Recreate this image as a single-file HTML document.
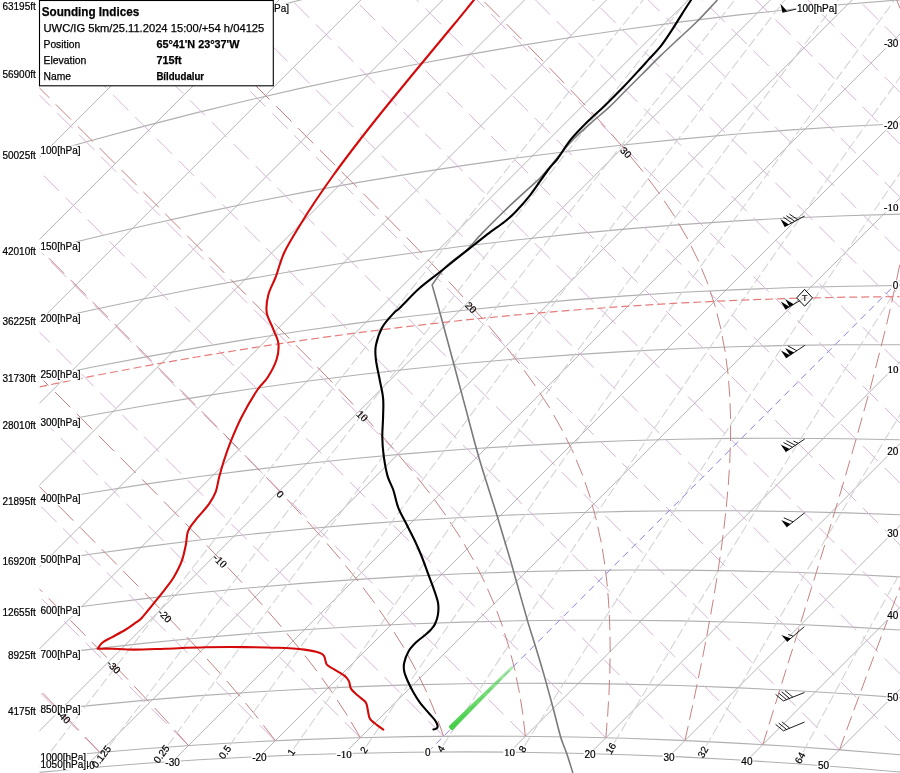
<!DOCTYPE html>
<html><head><meta charset="utf-8"><title>Sounding</title><style>html,body{margin:0;padding:0;background:#fff;overflow:hidden}svg{display:block}</style></head>
<body><svg width="900" height="773" viewBox="0 0 900 773">
<defs><linearGradient id="gg" gradientUnits="userSpaceOnUse" x1="451" y1="728" x2="512.6" y2="667.1"><stop offset="0" stop-color="#3ccc3c" stop-opacity="0.95"/><stop offset="0.6" stop-color="#50d450" stop-opacity="0.75"/><stop offset="1" stop-color="#70dc70" stop-opacity="0.55"/></linearGradient><filter id="gb" x="-20%" y="-20%" width="140%" height="140%"><feGaussianBlur stdDeviation="0.7"/></filter><clipPath id="pc"><rect x="39.5" y="0" width="861" height="773"/></clipPath></defs>
<rect width="900" height="773" fill="#fff"/>
<g clip-path="url(#pc)">
<path d="M-1375.6 1163.1l1168.1 -1168.1M-1229.5 1098.9l1103.9 -1103.9M-1092.2 1043.5l1048.5 -1048.5M-962.5 995.7l1000.7 -1000.7M-839.2 954.3l959.3 -959.3M-721.5 918.5l923.5 -923.5M-608.6 887.5l892.5 -892.5M-500.0 860.8l865.8 -865.8M-395.3 838.0l843.0 -843.0M-293.9 818.5l823.5 -823.5M-195.5 802.0l807.0 -807.0M-99.9 788.3l793.3 -793.3M-6.9 777.2l782.2 -782.2M83.9 768.3l773.3 -773.3M172.6 761.5l766.5 -766.5M259.4 756.6l761.6 -761.6M344.4 753.5l758.5 -758.5M509.6 752.1l757.1 -757.1M590.0 753.6l758.6 -758.6M669.1 756.4l761.4 -761.4M746.9 760.5l765.5 -765.5M823.6 765.7l770.7 -770.7M899.2 772.0l777.0 -777.0" stroke="#acacac" stroke-width="0.9" fill="none"/>
<path d="M38.8 772.4 L92.9 767.5 L146.2 763.3 L198.9 759.8 L250.8 757.0 L302.1 754.8 L357.0 753.2 L411.2 752.2 L464.8 751.9 L517.7 752.2 L574.0 753.2 L625.7 754.7 L680.8 756.9 L735.3 759.8 L793.1 763.5 L846.4 767.5 L903.0 772.3M41.0 757.9 L90.8 753.2 L144.4 748.8 L197.2 745.0 L249.4 742.0 L300.9 739.6 L356.0 737.8 L410.5 736.6 L464.2 736.1 L517.3 736.2 L573.9 737.0 L625.7 738.3 L681.0 740.4 L735.7 743.1 L789.8 746.3 L843.3 750.1 L900.0 754.8M38.8 711.1 L89.3 705.6 L143.6 700.4 L197.2 695.9 L250.1 692.2 L302.2 689.2 L358.0 686.6 L408.9 684.9 L463.3 683.8 L517.0 683.2 L570.1 683.4 L622.7 684.1 L678.6 685.5 L733.8 687.6 L788.5 690.2 L842.6 693.5 L899.9 697.6M36.6 655.9 L88.0 649.6 L143.3 643.4 L193.2 638.5 L247.0 633.9 L300.0 630.0 L356.7 626.5 L408.3 624.0 L463.5 622.1 L518.1 620.8 L571.9 620.2 L625.1 620.2 L681.8 620.9 L737.7 622.3 L793.0 624.3 L847.7 626.9 L901.8 630.1M39.3 612.3 L91.4 605.2 L142.7 598.9 L193.4 593.3 L247.8 588.0 L301.5 583.4 L354.5 579.6 L406.8 576.4 L462.7 573.8 L517.9 571.8 L572.3 570.6 L626.1 570.0 L679.3 570.1 L735.9 570.9 L791.8 572.3 L847.1 574.3 L901.7 577.0M40.8 561.6 L93.8 553.7 L145.9 546.6 L197.4 540.2 L252.6 534.0 L307.1 528.7 L360.8 524.1 L413.8 520.3 L466.1 517.2 L517.7 514.7 L572.9 512.7 L627.4 511.4 L681.3 510.8 L734.5 510.8 L791.1 511.5 L847.1 512.9 L902.4 514.9M39.7 501.2 L93.9 492.2 L147.1 483.9 L199.6 476.5 L251.3 469.9 L302.2 464.0 L357.0 458.3 L411.1 453.4 L464.3 449.3 L516.9 445.9 L573.1 442.9 L624.3 440.8 L679.1 439.3 L733.2 438.4 L790.7 438.2 L843.5 438.7 L899.7 439.8M37.6 425.6 L88.3 415.8 L143.1 406.0 L197.1 397.1 L250.2 389.0 L302.5 381.8 L358.8 374.7 L409.5 369.0 L464.1 363.5 L518.0 358.8 L571.0 354.9 L623.4 351.6 L679.5 348.8 L734.7 346.8 L789.3 345.4 L843.2 344.8 L900.5 344.8M40.1 378.0 L91.7 367.3 L147.6 356.6 L197.5 347.6 L251.5 338.6 L304.7 330.5 L357.1 323.1 L408.7 316.5 L464.2 310.2 L518.9 304.7 L572.8 299.9 L625.9 295.9 L682.7 292.3 L738.7 289.6 L794.0 287.5 L848.6 286.2 L902.5 285.5M39.0 321.8 L91.8 310.0 L143.7 299.0 L194.8 288.8 L250.1 278.6 L304.5 269.3 L358.0 260.8 L410.7 253.2 L462.6 246.3 L518.3 239.7 L573.3 233.9 L627.4 228.9 L680.8 224.6 L733.5 221.1 L789.8 218.0 L845.4 215.7 L900.2 214.1M40.4 250.8 L94.9 237.2 L148.4 224.7 L201.0 213.1 L252.7 202.3 L303.5 192.4 L358.5 182.4 L412.7 173.4 L465.9 165.1 L518.4 157.7 L574.7 150.5 L625.6 144.7 L680.4 139.1 L734.3 134.2 L792.0 129.9 L844.4 126.5 L900.5 123.7M37.0 155.9 L88.5 141.3 L144.6 126.1 L194.1 113.4 L248.2 100.3 L301.3 88.1 L358.7 75.8 L410.0 65.5 L465.4 55.1 L520.0 45.6 L573.6 37.0 L626.4 29.2 L683.2 21.6 L739.0 14.9 L794.0 9.0 L848.2 4.0 L901.7 -0.3M41.0 74.1 L94.6 57.3 L147.2 41.6 L198.8 26.9 L255.0 11.7 L310.1 -2.5 L364.2 -15.6 L417.3 -27.8 L469.5 -39.1 L520.8 -49.5 L576.4 -60.0 L631.0 -69.5 L684.7 -78.2 L737.6 -86.1 L794.4 -93.7 L845.7 -100.0 L900.8 -106.0M39.7 1.7 L89.5 -15.3 L144.4 -33.4 L198.1 -50.2 L250.8 -66.1 L302.5 -80.9 L358.8 -96.2 L414.0 -110.5 L468.2 -123.7 L521.4 -136.0 L573.7 -147.4 L625.1 -157.8 L680.7 -168.4 L735.4 -178.1 L789.2 -186.8 L842.2 -194.8 L899.1 -202.5" stroke="#b0b0b0" stroke-width="1.1" fill="none"/>
<path d="M-278.00 802.60l-812.6 -812.6M-179.66 786.16l-796.2 -796.2M-84.08 772.48l-782.5 -782.5M9.00 761.30l-771.3 -771.3M99.79 752.41l-762.4 -762.4M188.49 745.61l-755.6 -755.6M275.26 740.74l-750.7 -750.7M360.26 737.64l-747.6 -747.6M443.61 736.19l-746.2 -746.2M525.44 736.26l-746.3 -746.3M605.85 737.75l-747.7 -747.7M684.94 740.56l-750.6 -750.6M762.79 744.61l-772.8 -772.8M839.48 749.82l-849.5 -849.5M900.00 741.04l-910.0 -910.0M900.00 673.79l-910.0 -910.0M900.00 608.47l-910.0 -910.0M900.00 544.98l-910.0 -910.0M900.00 483.21l-910.0 -910.0M900.00 423.07l-910.0 -910.0M900.00 364.49l-910.0 -910.0M900.00 307.37l-910.0 -910.0M900.00 251.66l-910.0 -910.0M900.00 197.27l-910.0 -910.0M900.00 144.16l-910.0 -910.0M900.00 92.26l-910.0 -910.0M900.00 41.52l-910.0 -910.0" stroke="#dab4dc" stroke-width="1" fill="none" stroke-dasharray="21.65 9.28"/>
<path d="M99.8 752.4L85.2 737.0M78.9 730.4L64.1 715.1M57.7 708.5L42.7 693.1M188.5 745.6L174.8 730.2M169.0 723.6L154.8 708.1M148.7 701.5L134.2 686.2M128.0 679.6L113.2 664.2M106.9 657.6L91.9 642.2M85.5 635.7L70.4 620.3M63.9 613.7L48.7 598.4M42.2 591.8L27.0 576.5M275.3 740.7L263.4 725.2M258.3 718.6L245.6 703.1M240.1 696.5L226.8 681.0M221.0 674.4L207.1 659.0M201.1 652.4L186.8 637.0M180.6 630.4L165.9 615.0M159.7 608.4L144.8 593.0M138.4 586.4L123.3 571.1M116.9 564.5L101.7 549.2M95.2 542.6L80.0 527.3M73.4 520.7L58.2 505.4M51.6 498.8L36.3 483.5M360.3 737.6L351.2 722.1M347.3 715.5L337.2 700.0M332.8 693.3L321.7 677.8M316.9 671.1L304.9 655.6M299.8 649.0L286.9 633.5M281.5 626.9L268.0 611.4M262.2 604.8L248.1 589.3M242.1 582.7L227.7 567.3M221.5 560.7L206.7 545.3M200.4 538.7L185.4 523.4M179.0 516.8L163.9 501.5M157.5 494.9L142.3 479.5M135.8 473.0L120.5 457.6M114.0 451.1L98.7 435.7M92.1 429.2L76.8 413.9M70.3 407.3L55.0 392.0M48.4 385.4L33.1 370.1M443.6 736.2L438.1 720.8M435.8 714.1L429.4 698.7M426.6 692.0L419.1 676.5M415.9 669.9L407.4 654.3M403.8 647.6L394.1 632.1M390.0 625.4L379.3 609.9M374.7 603.2L363.1 587.7M358.1 581.0L345.5 565.5M340.2 558.8L326.9 543.4M321.2 536.7L307.3 521.3M301.3 514.7L287.0 499.2M280.8 492.6L266.1 477.2M259.8 470.7L244.9 455.3M238.5 448.7L223.4 433.3M217.0 426.8L201.8 411.4M195.3 404.9L180.0 389.5M173.5 383.0L158.2 367.6M151.7 361.1L136.4 345.7M129.8 339.2L114.5 323.9M108.0 317.3L92.6 302.0M86.1 295.4L70.8 280.1M64.2 273.5L48.9 258.2M42.3 251.6L27.0 236.3M525.4 736.3L523.6 721.0M522.9 714.5L520.5 699.2M519.4 692.7L516.3 677.3M515.0 670.7L511.1 655.3M509.4 648.7L504.6 633.2M502.6 626.5L496.8 611.0M494.3 604.3L487.5 588.8M484.6 582.1L476.7 566.5M473.3 559.8L464.2 544.2M460.3 537.5L450.0 521.9M445.7 515.2L434.4 499.6M429.5 493.0L417.2 477.4M412.0 470.8L398.9 455.3M393.3 448.6L379.5 433.1M373.6 426.5L359.4 411.1M353.2 404.5L338.6 389.1M332.3 382.5L317.4 367.1M311.1 360.5L296.0 345.2M289.5 338.6L274.4 323.2M267.9 316.7L252.6 301.3M246.1 294.8L230.8 279.4M224.3 272.9L209.0 257.6M202.4 251.0L187.1 235.7M180.5 229.1L165.2 213.8M158.7 207.2L143.3 191.9M136.8 185.3L121.5 170.0M114.9 163.5L99.6 148.1M93.0 141.6L77.7 126.3M71.1 119.7L55.8 104.4M49.3 97.8L34.0 82.5M605.9 737.7L607.0 722.8M607.6 716.5L608.5 701.5M608.9 695.1L609.5 680.0M609.8 673.6L610.0 658.4M610.2 651.9L610.0 636.7M609.9 630.2L609.3 614.9M609.0 608.4L607.9 593.0M607.4 586.5L605.6 571.0M604.8 564.4L602.3 548.9M601.2 542.3L597.8 526.7M596.4 520.1L592.1 504.5M590.3 497.8L585.0 482.1M582.7 475.4L576.2 459.8M573.5 453.0L565.8 437.4M562.5 430.6L553.7 415.0M549.8 408.2L539.7 392.6M535.4 385.9L524.1 370.3M519.3 363.6L507.0 348.0M501.7 341.3L488.6 325.8M482.9 319.1L469.1 303.7M463.1 297.0L448.8 281.6M442.6 275.0L427.9 259.6M421.6 253.0L406.7 237.6M400.3 231.0L385.2 215.7M378.7 209.1L363.5 193.8M357.0 187.2L341.7 171.9M335.2 165.3L319.9 150.0M313.3 143.4L298.0 128.1M291.5 121.5L276.2 106.2M269.6 99.6L254.3 84.3M247.7 77.8L232.4 62.4M225.8 55.9L210.5 40.6M204.0 34.0L188.7 18.7M182.1 12.1L166.8 -3.2M684.9 740.6L688.2 726.0M689.5 719.8L692.7 705.2M694.0 698.9L697.1 684.3M698.4 678.0L701.4 663.3M702.7 656.9L705.6 642.1M706.8 635.8L709.5 620.9M710.7 614.6L713.3 599.6M714.4 593.2L716.9 578.2M717.9 571.8L720.1 556.7M721.1 550.3L723.0 535.1M723.9 528.6L725.6 513.4M726.3 506.9L727.7 491.6M728.3 485.0L729.3 469.7M729.7 463.1L730.3 447.6M730.5 441.0L730.6 425.5M730.6 418.9L730.0 403.3M729.8 396.6L728.6 381.0M728.1 374.2L726.0 358.5M725.2 351.8L722.2 336.1M721.0 329.3L717.0 313.5M715.3 306.8L710.2 291.0M708.0 284.2L701.5 268.4M698.8 261.6L691.0 245.8M687.7 239.0L678.6 223.3M674.7 216.5L664.2 200.8M659.7 194.0L648.0 178.4M643.0 171.7L630.3 156.1M624.8 149.4L611.3 133.9M605.5 127.3L591.3 111.8M585.2 105.2L570.6 89.8M564.3 83.2L549.4 67.8M543.0 61.2L528.0 45.8M521.5 39.2L506.3 23.9M499.8 17.3L484.5 2.0M762.8 744.6L767.2 730.4M769.1 724.4L773.5 710.2M775.4 704.1L779.8 689.8M781.7 683.7L786.2 669.4M788.1 663.2L792.6 648.9M794.5 642.7L799.0 628.3M800.9 622.1L805.4 607.6M807.3 601.4L811.8 586.8M813.8 580.6L818.3 566.0M820.2 559.7L824.7 545.1M826.6 538.8L831.0 524.1M832.9 517.8L837.4 503.0M839.3 496.6L843.7 481.8M845.6 475.4L849.9 460.5M851.8 454.1L856.1 439.2M857.9 432.7L862.1 417.7M863.9 411.2L868.1 396.1M869.9 389.7L873.9 374.5M875.6 368.0L879.5 352.8M881.2 346.2L885.0 330.9M886.6 324.4L890.2 309.0M891.7 302.4L895.1 286.9M896.5 280.3L899.7 264.8M901.0 258.1L903.9 242.6M906.8 31.5L902.1 15.5M900.1 8.6L894.0 -7.4M839.5 749.8L844.5 736.0M846.6 730.1L851.7 716.3M853.8 710.3L859.0 696.4M861.2 690.5L866.3 676.5M868.5 670.6L873.8 656.6M876.0 650.6L881.3 636.5M883.6 630.5L888.9 616.5M891.2 610.4L896.6 596.3M898.9 590.2L904.4 576.1" stroke="#c47a7a" stroke-width="0.95" fill="none"/>
<path d="M34.4 772.9 L106.3 679.1 L179.6 584.5 L254.6 488.2 L330.8 391.1 L408.5 292.8 L487.3 193.8 L568.1 92.9 L651.1 -9.9M109.6 745.6 L177.8 655.1 L247.5 563.5 L318.5 470.8 L391.2 376.7 L464.7 282.3 L540.7 185.3 L617.0 88.8 L695.3 -9.8M167.9 745.2 L234.6 654.7 L302.7 563.2 L372.3 470.6 L443.2 377.0 L516.0 281.8 L589.3 186.6 L664.3 90.0 L742.0 -9.4M229.6 745.5 L294.5 655.3 L360.8 564.1 L428.8 471.6 L498.3 377.8 L569.2 283.1 L642.2 186.4 L716.3 89.0 L791.4 -8.7M293.6 748.8 L357.1 657.9 L422.0 566.2 L488.6 473.2 L556.7 379.2 L626.6 283.5 L698.2 186.6 L771.3 88.5 L846.3 -11.0M366.2 746.6 L427.5 656.0 L490.2 564.8 L554.8 471.9 L620.8 378.3 L688.4 283.3 L757.5 187.5 L829.6 88.6 L901.8 -9.5M443.1 745.4 L496.4 663.9 L551.0 581.5 L606.9 498.2 L664.6 413.3 L723.5 327.7 L784.1 240.7 L845.3 153.9 L909.0 64.5M524.7 745.6 L568.9 675.2 L614.1 603.9 L660.7 531.6 L708.1 458.9 L756.2 386.0 L805.9 311.6 L856.5 236.6 L908.4 160.7M614.3 742.6 L683.2 628.0 L755.3 511.0 L830.3 392.0 L908.4 271.0M706.1 746.3 L754.2 661.5 L803.7 576.0 L855.3 488.9 L908.2 401.2M803.2 752.0 L854.6 655.6 L908.1 558.0" stroke="#d2d2d2" stroke-width="1.05" fill="none" stroke-dasharray="10 3.6"/>
<path d="M39.4 386.9 L90.8 376.4 L146.5 365.8 L196.2 357.0 L250.1 348.2 L303.2 340.2 L355.4 333.0 L406.9 326.6 L462.2 320.3 L516.8 314.9 L570.5 310.3 L623.6 306.4 L680.3 303.0 L736.2 300.3 L791.3 298.4 L845.8 297.2 L899.6 296.6" stroke="#e67c7c" stroke-width="1.2" fill="none" stroke-dasharray="8 4"/>
<path d="M427.8 752.0L1179.8 0" stroke="#8282e4" stroke-width="1" fill="none" stroke-dasharray="7 5"/>
<path d="M717.4 0.0C710.8 7.0 704.0 14.6 697.6 21.0C691.2 27.4 685.2 32.6 679.0 38.4C672.8 44.2 666.6 49.9 660.4 55.9C654.2 61.9 647.6 68.7 641.8 74.5C636.0 80.3 630.9 85.4 625.5 90.8C620.1 96.2 615.0 101.7 609.2 107.1C603.4 112.5 596.3 118.2 590.5 123.4C584.7 128.6 578.9 133.8 574.2 138.5C569.6 143.2 566.6 146.7 562.6 151.3C558.6 155.9 554.3 161.5 550.5 166.0C546.7 170.5 543.8 174.3 539.6 178.5C535.4 182.7 531.3 185.9 525.4 191.3C519.5 196.8 511.2 204.3 504.1 211.2C497.0 218.1 489.1 225.9 482.7 232.6C476.3 239.2 470.4 246.6 465.6 251.1C460.9 255.6 457.8 256.8 454.2 259.6C450.6 262.5 448.0 264.0 444.3 268.2C440.6 272.4 436.2 279.3 432.1 284.9C435.0 295.3 437.3 303.1 440.9 316.2C444.5 329.3 449.4 347.6 453.6 363.3C457.8 379.0 462.0 394.7 466.2 410.4C470.4 426.1 473.8 440.0 478.9 457.5C484.0 475.0 492.2 499.8 497.0 515.5C501.8 531.2 505.0 542.1 507.9 551.7C510.8 561.3 510.8 561.6 514.1 573.2C517.4 584.8 524.2 609.4 527.7 621.4C531.2 633.4 532.5 636.5 535.2 645.5C538.0 654.5 541.2 665.1 544.2 675.6C547.2 686.1 550.5 698.5 553.3 708.8C556.1 719.1 558.5 729.9 560.8 737.4C563.1 744.9 564.9 748.1 566.9 754.0C568.9 759.9 570.9 766.7 572.9 773.0" stroke="#7a7a7a" stroke-width="1.6" fill="none" stroke-linejoin="round"/>
<path d="M691.1 0.0C687.8 5.0 684.4 10.2 681.3 15.1C678.2 19.9 676.0 23.9 672.5 29.1C669.0 34.4 664.4 41.6 660.4 46.6C656.4 51.6 652.2 55.5 648.7 59.4C645.2 63.3 643.7 65.1 639.4 69.8C635.1 74.5 628.9 81.3 623.1 87.3C617.3 93.3 610.3 100.3 604.5 105.9C598.7 111.5 593.8 115.5 588.2 121.1C582.6 126.7 575.8 133.5 570.7 139.7C565.7 145.9 561.7 153.2 557.9 158.3C554.1 163.4 552.6 163.9 548.0 170.0C543.4 176.1 535.8 187.9 530.4 194.8C525.0 201.7 520.2 206.9 515.9 211.4C511.6 215.9 509.1 218.2 504.6 221.8C500.1 225.4 494.0 229.3 489.0 233.1C484.0 236.9 479.3 240.7 474.5 244.5C469.7 248.3 465.9 251.2 460.0 255.9C454.1 260.6 446.2 267.0 439.3 272.5C432.4 278.0 425.2 283.1 418.6 289.0C412.1 294.9 404.1 303.7 400.0 307.7C395.9 311.7 396.9 309.6 394.0 312.9C391.1 316.1 385.3 321.8 382.3 327.2C379.3 332.6 377.0 339.9 375.9 345.3C374.8 350.7 375.2 353.7 375.9 359.5C376.5 365.3 378.6 373.7 379.8 380.2C381.0 386.7 382.6 392.3 383.1 398.3C383.7 404.3 383.2 409.9 383.1 416.4C383.0 422.9 382.2 430.6 382.3 437.1C382.4 443.6 382.7 448.7 383.6 455.2C384.5 461.7 385.9 470.1 387.5 475.9C389.1 481.7 391.5 484.7 393.3 490.0C395.1 495.3 396.1 502.0 398.2 507.5C400.3 513.0 403.1 517.5 405.9 523.0C408.6 528.5 412.1 535.0 414.7 540.5C417.3 546.0 419.4 550.8 421.5 556.0C423.6 561.2 425.4 566.4 427.3 571.6C429.2 576.8 431.3 581.9 433.1 587.1C434.9 592.3 437.2 598.1 438.0 602.6C438.8 607.1 438.5 610.7 438.0 614.3C437.5 617.9 436.2 621.4 435.0 624.0C433.8 626.6 432.4 628.0 430.6 630.0C428.8 632.0 426.7 633.6 424.2 635.7C421.7 637.8 418.2 640.2 415.6 642.8C413.0 645.4 410.4 648.1 408.5 651.4C406.6 654.7 404.9 659.4 404.2 662.7C403.5 666.0 403.6 668.2 404.2 671.3C404.8 674.4 406.2 677.7 407.8 681.2C409.4 684.8 411.5 689.0 413.5 692.6C415.5 696.2 417.4 699.3 419.9 702.6C422.4 705.9 425.8 709.5 428.4 712.6C431.0 715.7 434.1 718.7 435.6 721.1C437.2 723.5 437.7 725.5 437.7 726.8C437.7 728.1 436.3 728.5 435.6 728.9C434.9 729.3 434.1 729.2 433.4 729.4" stroke="#000" stroke-width="2.1" fill="none" stroke-linejoin="round" stroke-linecap="round"/>
<path d="M473.9 0.0C467.1 8.3 460.4 16.7 453.5 25.0C446.6 33.3 439.7 41.7 432.8 50.0C425.9 58.3 419.0 66.7 412.1 75.0C405.2 83.3 398.4 91.7 391.6 100.0C384.8 108.3 378.1 116.7 371.5 125.0C364.9 133.3 358.4 141.7 352.1 150.0C345.8 158.3 339.5 166.7 333.5 175.0C327.5 183.3 321.7 191.7 316.1 200.0C310.5 208.3 305.4 216.2 300.1 225.0C294.8 233.8 288.4 243.8 284.3 252.5C280.2 261.2 278.4 270.0 275.7 277.0C273.0 284.0 269.9 288.7 268.4 294.6C266.9 300.5 265.9 306.6 266.7 312.3C267.5 318.0 271.1 323.4 273.0 328.6C274.9 333.8 277.8 338.3 278.4 343.5C279.0 348.7 278.3 354.1 276.5 359.8C274.7 365.5 270.8 372.5 267.6 377.5C264.4 382.5 261.7 383.4 257.3 390.0C253.0 396.6 245.9 408.6 241.5 417.2C237.1 425.8 233.6 434.4 230.7 441.6C227.8 448.9 225.8 454.8 223.9 460.7C222.0 466.6 220.6 471.8 219.2 477.0C217.8 482.2 217.4 487.4 215.7 491.9C214.0 496.4 212.3 499.4 208.9 504.1C205.5 508.9 198.8 515.9 195.3 520.4C191.8 524.9 189.6 527.2 188.0 531.3C186.4 535.4 186.9 539.9 185.8 544.9C184.8 549.9 183.7 555.8 181.7 561.2C179.7 566.6 176.4 572.8 173.6 577.5C170.8 582.2 167.8 585.7 165.0 589.3C162.2 592.9 159.7 596.0 157.0 599.3C154.3 602.6 151.7 606.1 149.0 609.3C146.3 612.5 143.2 616.5 141.0 618.7C138.8 620.9 138.4 620.8 135.7 622.7C133.0 624.6 129.0 627.6 125.0 630.0C121.0 632.4 115.5 635.2 111.7 637.3C107.9 639.4 104.6 640.8 102.3 642.7C100.0 644.6 99.2 646.7 97.7 648.7C102.4 648.7 105.6 648.6 111.7 648.7C117.8 648.9 125.4 649.6 134.3 649.6C143.2 649.6 153.2 649.1 165.0 648.7C176.8 648.3 191.8 647.6 205.0 647.3C218.2 647.0 232.3 647.0 244.4 647.1C256.5 647.2 267.8 647.4 277.8 647.8C287.8 648.2 297.4 648.8 304.4 649.6C311.4 650.5 316.7 651.7 320.0 652.9C323.3 654.1 323.3 654.8 324.4 656.7C325.5 658.6 325.2 662.4 326.7 664.4C328.2 666.4 330.4 667.0 333.3 668.9C336.2 670.8 341.8 673.6 344.4 675.6C347.0 677.6 347.8 678.9 348.9 681.1C350.0 683.3 349.6 686.5 351.1 688.9C352.6 691.3 355.4 693.4 357.8 695.6C360.2 697.8 363.9 699.8 365.6 702.2C367.3 704.6 367.1 707.2 367.8 710.0C368.5 712.8 368.3 716.3 370.0 718.9C371.7 721.5 375.6 723.8 377.8 725.6C380.0 727.4 381.5 728.3 383.3 729.6" stroke="#d40a0a" stroke-width="2.1" fill="none" stroke-linejoin="round" stroke-linecap="round"/>
<path d="M449.0 726.0 Q448.8 729.6 452.6 730.2 L513.4 668.2 Q512.6 666.0 511.0 666.4 Z" fill="url(#gg)" filter="url(#gb)"/>
</g>
<g font-family="'Liberation Sans',sans-serif" font-size="10" fill="#000" stroke-width="0.2"><text stroke="#000" x="35.8" y="10.0" text-anchor="end">63195ft</text><text stroke="#000" x="35.8" y="78.2" text-anchor="end">56900ft</text><text stroke="#000" x="35.8" y="158.7" text-anchor="end">50025ft</text><text stroke="#000" x="35.8" y="254.6" text-anchor="end">42010ft</text><text stroke="#000" x="35.8" y="325.3" text-anchor="end">36225ft</text><text stroke="#000" x="35.8" y="381.7" text-anchor="end">31730ft</text><text stroke="#000" x="35.8" y="428.8" text-anchor="end">28010ft</text><text stroke="#000" x="35.8" y="504.9" text-anchor="end">21895ft</text><text stroke="#000" x="35.8" y="565.4" text-anchor="end">16920ft</text><text stroke="#000" x="35.8" y="615.8" text-anchor="end">12655ft</text><text stroke="#000" x="35.8" y="659.1" text-anchor="end">8925ft</text><text stroke="#000" x="35.8" y="714.6" text-anchor="end">4175ft</text><rect fill="#fff" x="79.5" y="760.6" width="16.1" height="9.0"/><text stroke="#000" x="87.5" y="768.6" text-anchor="middle">-40</text><rect fill="#fff" x="164.6" y="757.7" width="16.1" height="9.0"/><text stroke="#000" x="172.6" y="765.7" text-anchor="middle">-30</text><rect fill="#fff" x="251.4" y="752.8" width="16.1" height="9.0"/><text stroke="#000" x="259.4" y="760.8" text-anchor="middle">-20</text><rect fill="#fff" x="336.3" y="749.0" width="16.3" height="9.7"/><text stroke="#000" x="344.4" y="757.7" text-anchor="middle" font-family="'Liberation Serif',serif" font-size="11">-10</text><rect fill="#fff" x="424.2" y="748.2" width="7.2" height="9.0"/><text stroke="#000" x="427.8" y="756.2" text-anchor="middle">0</text><rect fill="#fff" x="503.3" y="747.6" width="12.6" height="9.7"/><text stroke="#000" x="509.6" y="756.3" text-anchor="middle" font-family="'Liberation Serif',serif" font-size="11">10</text><rect fill="#fff" x="583.6" y="749.8" width="12.7" height="9.0"/><text stroke="#000" x="590.0" y="757.8" text-anchor="middle">20</text><rect fill="#fff" x="662.7" y="752.6" width="12.7" height="9.0"/><text stroke="#000" x="669.1" y="760.6" text-anchor="middle">30</text><rect fill="#fff" x="740.6" y="756.7" width="12.7" height="9.0"/><text stroke="#000" x="746.9" y="764.7" text-anchor="middle">40</text><rect fill="#fff" x="817.3" y="760.6" width="12.7" height="9.0"/><text stroke="#000" x="823.6" y="768.6" text-anchor="middle">50</text><rect fill="#fff" x="39.7" y="145.6" width="41.6" height="10.2"/><text stroke="#000" x="40.5" y="153.8">100[hPa]</text><rect fill="#fff" x="39.7" y="242.2" width="41.6" height="10.2"/><text stroke="#000" x="40.5" y="250.4">150[hPa]</text><rect fill="#fff" x="39.7" y="313.4" width="41.6" height="10.2"/><text stroke="#000" x="40.5" y="321.6">200[hPa]</text><rect fill="#fff" x="39.7" y="370.2" width="41.6" height="10.2"/><text stroke="#000" x="40.5" y="378.4">250[hPa]</text><rect fill="#fff" x="39.7" y="417.6" width="41.6" height="10.2"/><text stroke="#000" x="40.5" y="425.8">300[hPa]</text><rect fill="#fff" x="39.7" y="494.2" width="41.6" height="10.2"/><text stroke="#000" x="40.5" y="502.4">400[hPa]</text><rect fill="#fff" x="39.7" y="555.1" width="41.6" height="10.2"/><text stroke="#000" x="40.5" y="563.3">500[hPa]</text><rect fill="#fff" x="39.7" y="605.8" width="41.6" height="10.2"/><text stroke="#000" x="40.5" y="614.0">600[hPa]</text><rect fill="#fff" x="39.7" y="649.4" width="41.6" height="10.2"/><text stroke="#000" x="40.5" y="657.6">700[hPa]</text><rect fill="#fff" x="39.7" y="705.1" width="41.6" height="10.2"/><text stroke="#000" x="40.5" y="713.3">850[hPa]</text><rect fill="#fff" x="39.7" y="752.5" width="47.2" height="10.2"/><text stroke="#000" x="40.5" y="760.7">1000[hPa]</text><rect fill="#fff" x="39.7" y="760.0" width="47.2" height="10.2"/><text stroke="#000" x="40.5" y="768.2">1050[hPa]</text><rect fill="#fff" x="253.7" y="3.7" width="36.1" height="10.2"/><text stroke="#000" x="254.5" y="11.9">70[hPa]</text><rect fill="#fff" x="883.1" y="39.4" width="16.1" height="9.0"/><text stroke="#000" x="898.4" y="47.4" text-anchor="end">-30</text><rect fill="#fff" x="883.1" y="121.3" width="16.1" height="9.0"/><text stroke="#000" x="898.4" y="129.3" text-anchor="end">-20</text><rect fill="#fff" x="882.9" y="202.6" width="16.3" height="9.7"/><text stroke="#000" x="898.4" y="211.3" text-anchor="end" font-family="'Liberation Serif',serif" font-size="11">-10</text><rect fill="#fff" x="892.0" y="280.7" width="7.2" height="9.0"/><text stroke="#000" x="898.4" y="288.7" text-anchor="end">0</text><rect fill="#fff" x="886.6" y="364.6" width="12.6" height="9.7"/><text stroke="#000" x="898.4" y="373.3" text-anchor="end" font-family="'Liberation Serif',serif" font-size="11">10</text><rect fill="#fff" x="886.5" y="447.3" width="12.7" height="9.0"/><text stroke="#000" x="898.4" y="455.3" text-anchor="end">20</text><rect fill="#fff" x="886.5" y="529.2" width="12.7" height="9.0"/><text stroke="#000" x="898.4" y="537.2" text-anchor="end">30</text><rect fill="#fff" x="886.5" y="611.1" width="12.7" height="9.0"/><text stroke="#000" x="898.4" y="619.1" text-anchor="end">40</text><rect fill="#fff" x="886.5" y="693.0" width="12.7" height="9.0"/><text stroke="#000" x="898.4" y="701.0" text-anchor="end">50</text><text stroke="#000" transform="translate(56.2,714.3) rotate(45.0)">-40</text><text stroke="#000" transform="translate(106.2,664.3) rotate(45.0)">-30</text><text stroke="#000" transform="translate(157.3,613.2) rotate(45.0)">-20</text><text stroke="#000" transform="translate(212.2,558.3) rotate(45.0)" font-family="'Liberation Serif',serif" font-size="11">-10</text><text stroke="#000" transform="translate(275.8,494.7) rotate(45.0)">0</text><text stroke="#000" transform="translate(355.8,414.7) rotate(45.0)" font-family="'Liberation Serif',serif" font-size="11">10</text><text stroke="#000" transform="translate(464.5,306.0) rotate(45.0)">20</text><text stroke="#000" transform="translate(619.5,151.0) rotate(45.0)">30</text><text stroke="#000" transform="translate(96.6,768.8) rotate(-53.1)">0.125</text><text stroke="#000" transform="translate(158.5,763.9) rotate(-53.8)">0.25</text><text stroke="#000" transform="translate(223.7,759.8) rotate(-54.4)">0.5</text><text stroke="#000" transform="translate(292.5,756.5) rotate(-55.2)">1</text><text stroke="#000" transform="translate(365.3,754.2) rotate(-56.1)">2</text><text stroke="#000" transform="translate(442.3,753.0) rotate(-57.0)">4</text><text stroke="#000" transform="translate(524.1,753.2) rotate(-58.1)">8</text><text stroke="#000" transform="translate(611.0,755.0) rotate(-59.4)">16</text><text stroke="#000" transform="translate(703.2,758.7) rotate(-60.8)">32</text><text stroke="#000" transform="translate(800.6,764.5) rotate(-62.4)">64</text></g>
<g stroke="#111" stroke-width="0.95" fill="none"><line x1="804.6" y1="7.2" x2="782.4" y2="12.3"/><polygon points="782.4,12.3 787.2,11.2 780.4,3.8" fill="#000" stroke="none"/><line x1="804.7" y1="216.0" x2="784.6" y2="226.7"/><polygon points="784.6,226.7 788.9,224.4 780.4,218.9" fill="#000" stroke="none"/><line x1="791.8" y1="222.9" x2="783.4" y2="217.2"/><line x1="794.8" y1="221.3" x2="786.4" y2="215.7"/><line x1="797.8" y1="219.7" x2="789.4" y2="214.1"/><line x1="804.6" y1="297.9" x2="785.3" y2="309.2"/><polygon points="785.3,309.2 789.5,306.7 780.8,301.6" fill="#000" stroke="none"/><polygon points="789.5,306.7 793.7,304.3 785.1,299.1" fill="#000" stroke="none"/><line x1="804.9" y1="345.3" x2="785.9" y2="358.0"/><polygon points="785.9,358.0 790.0,355.2 781.0,350.6" fill="#000" stroke="none"/><polygon points="790.0,355.2 794.1,352.5 785.1,347.9" fill="#000" stroke="none"/><line x1="796.8" y1="350.7" x2="787.9" y2="345.9"/><line x1="804.6" y1="439.1" x2="785.6" y2="451.8"/><polygon points="785.6,451.8 789.7,449.0 780.7,444.4" fill="#000" stroke="none"/><line x1="792.5" y1="447.2" x2="783.5" y2="442.5"/><line x1="795.3" y1="445.3" x2="786.4" y2="440.6"/><line x1="798.1" y1="443.4" x2="793.5" y2="441.0"/><line x1="804.6" y1="512.9" x2="786.6" y2="526.9"/><polygon points="786.6,526.9 790.5,523.9 781.2,520.0" fill="#000" stroke="none"/><line x1="793.1" y1="521.9" x2="783.8" y2="517.8"/><line x1="804.3" y1="626.7" x2="787.0" y2="641.6"/><polygon points="787.0,641.6 790.7,638.4 781.3,634.9" fill="#000" stroke="none"/><line x1="793.2" y1="636.2" x2="788.3" y2="634.4"/><line x1="804.5" y1="692.5" x2="783.3" y2="700.9"/><line x1="783.3" y1="700.9" x2="775.6" y2="694.4"/><line x1="786.5" y1="699.6" x2="778.7" y2="693.1"/><line x1="789.6" y1="698.4" x2="781.9" y2="691.9"/><line x1="792.8" y1="697.1" x2="785.0" y2="690.6"/><line x1="804.5" y1="722.1" x2="783.4" y2="730.8"/><line x1="783.4" y1="730.8" x2="775.6" y2="724.4"/><line x1="786.6" y1="729.5" x2="778.7" y2="723.1"/><line x1="789.7" y1="728.2" x2="781.9" y2="721.8"/></g>
<g><path d="M804.6 289.4L812.5 297.9L804.6 306.2L796.7 297.9Z" fill="#fff" fill-opacity="0.7" stroke="#000" stroke-width="1"/>
<text x="804.7" y="300.9" text-anchor="middle" font-family="'Liberation Sans',sans-serif" font-size="9" font-weight="bold" fill="#444">T</text></g>
<g font-family="'Liberation Sans',sans-serif" font-size="10" fill="#000" stroke-width="0.2"><rect fill="#fff" x="796.2" y="4.2" width="41.6" height="10.2"/><text stroke="#000" x="797.0" y="12.4">100[hPa]</text></g>
<rect x="39.5" y="0.5" width="233.8" height="85.3" fill="#fff" stroke="#000" stroke-width="1.1"/>
<g font-family="'Liberation Sans',sans-serif" fill="#000" stroke="#000" stroke-width="0.25">
<text x="41.7" y="15.6" font-size="13" font-weight="bold" textLength="97.5" lengthAdjust="spacingAndGlyphs">Sounding Indices</text>
<text x="43.5" y="31.6" font-size="10.8" textLength="220.8" lengthAdjust="spacingAndGlyphs">UWC/IG 5km/25.11.2024 15:00/+54 h/04125</text>
<text x="43.5" y="47.7" font-size="10.8" textLength="36.7" lengthAdjust="spacingAndGlyphs">Position</text>
<text x="43.5" y="63.6" font-size="10.8" textLength="42.9" lengthAdjust="spacingAndGlyphs">Elevation</text>
<text x="43.5" y="79.5" font-size="10.8" textLength="27.5" lengthAdjust="spacingAndGlyphs">Name</text>
<text x="156.4" y="47.7" font-size="10.8" font-weight="bold" textLength="83" lengthAdjust="spacingAndGlyphs">65°41'N 23°37'W</text>
<text x="156.4" y="63.6" font-size="10.8" font-weight="bold" textLength="25.3" lengthAdjust="spacingAndGlyphs">715ft</text>
<text x="156.4" y="79.5" font-size="10.8" font-weight="bold" textLength="47.7" lengthAdjust="spacingAndGlyphs">Bíldudalur</text>
</g>
</svg></body></html>
